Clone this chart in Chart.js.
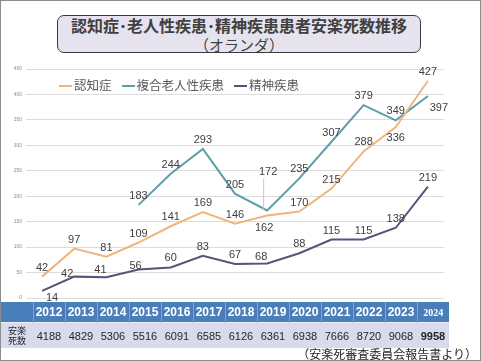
<!DOCTYPE html>
<html><head><meta charset="utf-8">
<script src="https://cdn.jsdelivr.net/npm/chart.js@4.4.1/dist/chart.umd.min.js"></script>
<style>
html,body{margin:0;padding:0;background:#fff;}
#frame{position:relative;width:479px;height:359px;border:1px solid #8c8c8c;overflow:hidden;font-family:"Noto Sans CJK JP","Noto Sans",sans-serif;}
#title{position:absolute;left:56px;top:14px;width:362px;height:36px;border:1.5px solid #3a3a3a;border-radius:7px;background:#e6e3ef;text-align:center;color:#404040;font-weight:bold;font-size:16px;line-height:19px;overflow:hidden;}
#title .sub{font-weight:normal;font-size:15px;}
#wrap{position:absolute;left:0;top:58px;width:470px;height:246px;}
#legend{position:absolute;top:74px;left:58px;font-size:12.5px;color:#595959;white-space:nowrap;}
#legend span.item{display:inline-block;margin-right:10px;}
#legend span.sw{display:inline-block;width:13px;height:2px;vertical-align:middle;margin-right:2px;position:relative;top:-1px;}
#tbl{position:absolute;left:0;top:301px;width:448px;border-collapse:collapse;table-layout:fixed;}
#tbl td{width:32px;padding:0;text-align:center;overflow:hidden;white-space:nowrap;}
#tbl tr.h td{height:20px;background:#4a7ebb;color:#fff;font-weight:bold;font-family:"Liberation Sans","DejaVu Sans",sans-serif;font-size:12px;border-left:1px solid #7fa3d1;}
#tbl tr.h td:first-child{border-left:none;}
#tbl tr.b td{height:25px;background:#d7dbec;color:#262626;font-family:"Liberation Sans Narrow","Liberation Sans",sans-serif;font-size:11px;border-top:1px solid #eef0f8;}
#tbl tr.b td.lab{font-family:"Noto Sans CJK JP",sans-serif;font-size:9px;line-height:10px;}
#src{position:absolute;right:3px;top:344px;font-size:12px;color:#262626;}
</style></head>
<body>
<div id="frame">
  <div id="title">認知症･老人性疾患･精神疾患患者安楽死数推移<br><span class="sub">（オランダ）</span></div>
  <div id="wrap"><canvas id="c" width="470" height="246"></canvas></div>
  <div id="legend"></div>
  <table id="tbl"><colgroup id="cg"></colgroup><tbody><tr class="h" id="hr"></tr><tr class="b" id="br"></tr></tbody></table>
  <div id="src">（安楽死審査委員会報告書より）</div>
</div>
<script>
const years = ["2012","2013","2014","2015","2016","2017","2018","2019","2020","2021","2022","2023","2024"];
const dementia = [42,97,81,109,141,169,146,162,170,215,288,336,427];
const geriatric = [null,null,null,183,244,293,205,172,235,307,379,349,397];
const psychiatric = [14,42,41,56,60,83,67,68,88,115,115,138,219];
const totalEuthanasia = [4188,4829,5306,5516,6091,6585,6126,6361,6938,7666,8720,9068,9958];
const seriesNames = ["認知症","複合老人性疾患","精神疾患"];
const yTicks = [0,50,100,150,200,250,300,350,400,450];
const tableRowLabel = "安楽\n死数";

// label offsets (style only): [dx, dy] relative to point
const labelOffsets = [
  [[0,-9],[0,-9],[0,-9],[0,-9],[0,-9],[0,-9],[0,-9],[-3,12],[0,-9],[0,-9],[0,-9],[0,11],[0,-9]],
  [null,null,null,[0,-9],[0,-9],[0,-9],[0,-9],[1,-39],[0,-9],[0,-9],[0,-9],[0,-9],[11,12]],
  [[10,7],[-7,-3],[-6,-7],[-3,-4],[0,-9],[0,-9],[0,-9],[-6,-6],[0,-9],[0,-9],[0,-9],[0,-9],[0,-9]]
];
const colors = ["#f2b47d","#5c9fa8","#5e4f7a"];

// legend
const lg = document.getElementById('legend');
seriesNames.forEach((n,i)=>{
  const s=document.createElement('span');s.className='item';
  s.innerHTML='<span class="sw" style="background:'+colors[i]+'"></span>'+n;
  lg.appendChild(s);
});
// table
const cg=document.getElementById('cg');
for(let i=0;i<=years.length;i++){const c=document.createElement('col');c.style.width='32px';cg.appendChild(c);}
const hr=document.getElementById('hr'), br=document.getElementById('br');
hr.appendChild(document.createElement('td'));
const l=document.createElement('td');l.className='lab';l.innerHTML=tableRowLabel.replace('\n','<br>');br.appendChild(l);
years.forEach((y,i)=>{
  const h=document.createElement('td');h.textContent=y;
  if(i===years.length-1){h.style.fontFamily='"Liberation Serif",serif';h.style.fontSize='10px';}
  hr.appendChild(h);
  const b=document.createElement('td');b.textContent=totalEuthanasia[i];
  if(i===years.length-1){b.style.fontWeight='bold';b.style.fontFamily='"Liberation Sans",sans-serif';}
  br.appendChild(b);
});

const labelPlugin={
  id:'vlabels',
  afterDatasetsDraw(chart){
    const ctx=chart.ctx;
    ctx.save();
    ctx.font='11px "Liberation Sans","DejaVu Sans",sans-serif';
    ctx.fillStyle='#404040';
    ctx.textAlign='center';ctx.textBaseline='middle';
    chart.data.datasets.forEach((ds,di)=>{
      const meta=chart.getDatasetMeta(di);
      meta.data.forEach((pt,i)=>{
        const v=ds.data[i]; if(v==null) return;
        const off=labelOffsets[di][i]||[0,-9];
        const x=pt.x+off[0], y=pt.y+off[1];
        if(off[1]<-20){
          ctx.save();ctx.strokeStyle='#c8c8c8';ctx.lineWidth=1;
          ctx.beginPath();ctx.moveTo(x-4.5,y+7);ctx.lineTo(x-4.5,pt.y);ctx.stroke();ctx.restore();
        }
        ctx.fillText(String(v),x,y);
      });
    });
    ctx.restore();
  }
};

new Chart(document.getElementById('c'),{
  type:'line',
  data:{labels:years,datasets:[
    {label:seriesNames[0],data:dementia,borderColor:colors[0],borderWidth:2,pointRadius:0,tension:0},
    {label:seriesNames[1],data:geriatric,borderColor:colors[1],borderWidth:2,pointRadius:0,tension:0,spanGaps:false},
    {label:seriesNames[2],data:psychiatric,borderColor:colors[2],borderWidth:2,pointRadius:0,tension:0}
  ]},
  options:{
    responsive:false,animation:false,devicePixelRatio:1,
    layout:{padding:{top:10,bottom:5,right:27,left:0}},
    plugins:{legend:{display:false},tooltip:{enabled:false}},
    scales:{
      x:{display:false,offset:true},
      y:{min:0,max:450,
        afterBuildTicks(s){s.ticks=yTicks.map(v=>({value:v}));},
        afterFit(s){s.width=25;},
        ticks:{font:{size:5},color:'#8c8c8c',padding:4},
        grid:{color:'#dcdcdc',drawTicks:false},border:{display:false}}
    }
  },
  plugins:[labelPlugin]
});
</script>
</body></html>
